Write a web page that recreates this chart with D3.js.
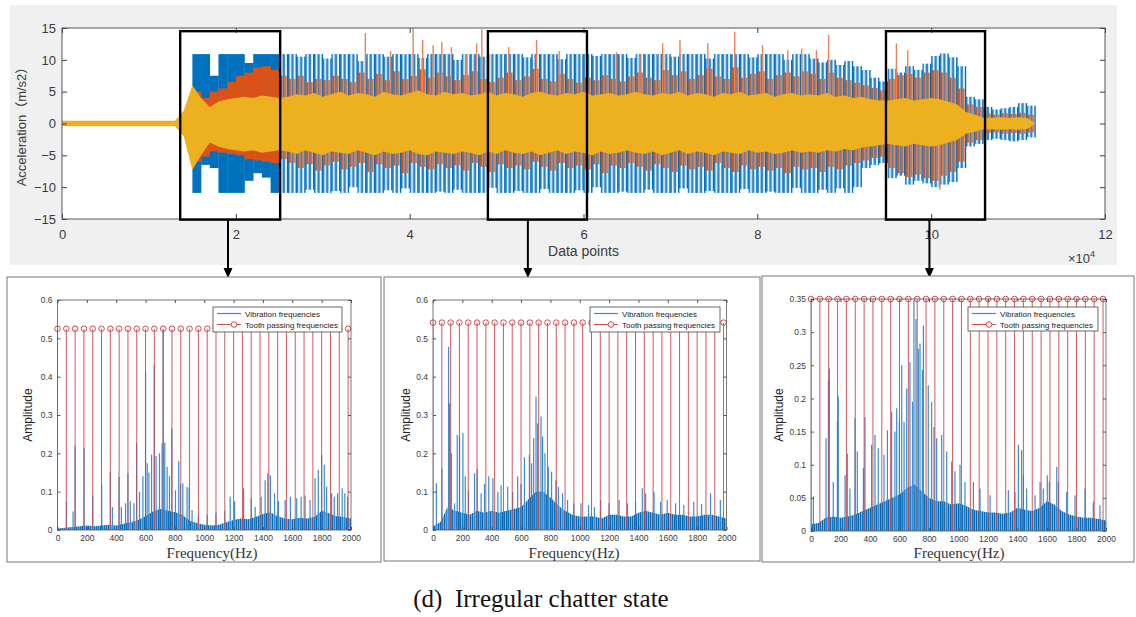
<!DOCTYPE html>
<html>
<head>
<meta charset="utf-8">
<script src="https://cdn.jsdelivr.net/npm/d3@7"></script>
<style>
  body { margin: 0; background: #fff; }
  svg { display: block; font-family: "Liberation Sans", Arial, "Noto Sans CJK SC", sans-serif; }
</style>
</head>
<body>
<svg id="fig" width="1136" height="617"></svg>
<script>
// ---------- top plot: acceleration, one envelope value every 1000 data points ----------
const sampleStep = 1000;
const xTicksTop = [0, 2, 4, 6, 8, 10, 12];          // x 10^4
const yTicksTop = [-15, -10, -5, 0, 5, 10, 15];

const blueHi = [0.3,0.3,0.3,0.3,0.3,0.3,0.3,0.3,0.3,0.3,0.3,0.3,0.3,0.3,
  1.5,
  10.9,10.9,7.5,10.9,10.9,10.9,9.5,10.9,10.9,10.9,10.9,
  10.9,10.5,10.9,10.9,10.2,10.9,10.9,10.9,9.8,10.9,10.9,10.5,10.9,10.9,10.9,10.3,10.9,10.9,10.9,10.0,
  10.9,10.9,10.5,10.9,10.9,10.9,10.9,10.4,10.9,10.9,10.9,10.1,10.9,10.9,10.9,10.6,10.9,10.9,10.9,10.3,
  10.9,10.9,10.9,10.9,10.5,10.9,10.9,10.9,10.2,10.9,10.9,10.9,10.9,10.4,10.9,10.9,10.9,10.0,10.9,10.9,
  10.2,9.6,10.0,9.2,9.8,9.0,8.4,7.2,6.6,
  8.6,8.0,9.0,8.4,9.4,10.6,11.0,10.4,9.0,
  4.2,3.8,2.6,2.2,2.4,2.6,3.2,2.8,0];
const blueLo = [-0.3,-0.3,-0.3,-0.3,-0.3,-0.3,-0.3,-0.3,-0.3,-0.3,-0.3,-0.3,-0.3,-0.3,
  -1.5,
  -10.9,-6.5,-7.0,-10.9,-10.9,-10.9,-9.0,-7.8,-8.5,-10.9,-10.9,
  -10.9,-10.9,-10.4,-10.9,-10.9,-10.6,-10.9,-10.0,-10.9,-10.9,-10.9,-10.5,-10.9,-10.2,-10.9,-10.9,-10.9,-10.7,-10.9,-10.4,
  -10.9,-10.9,-10.9,-10.1,-10.9,-10.9,-10.6,-10.9,-10.9,-10.3,-10.9,-10.9,-10.9,-10.5,-10.9,-10.0,-10.9,-10.9,-10.7,-10.9,
  -10.9,-10.4,-10.9,-10.9,-10.9,-10.2,-10.9,-10.9,-10.6,-10.9,-10.9,-10.9,-10.3,-10.9,-10.9,-10.7,-10.9,-10.9,-10.1,-10.9,
  -10.9,-10.4,-10.9,-10.2,-10.9,-10.0,-7.0,-6.5,-6.2,
  -8.6,-8.2,-9.6,-9.0,-9.4,-10.0,-9.6,-9.2,-7.0,
  -3.6,-3.2,-2.6,-2.4,-2.6,-2.8,-2.6,-2.2,0];
const orangeHi = [0.35,0.35,0.35,0.35,0.35,0.35,0.35,0.35,0.35,0.35,0.35,0.35,0.35,0.35,
  1.5,
  5.0,4.0,5.0,5.5,6.5,7.5,8.0,8.8,9.0,8.4,7.5,
  7.0,7.5,6.5,7.0,6.8,7.5,7.0,6.5,8.0,7.0,7.8,6.8,8.2,7.0,7.5,8.5,7.2,8.0,7.4,6.8,
  7.6,8.2,7.0,6.5,7.2,8.0,6.8,7.4,8.6,7.0,6.6,7.8,7.0,6.4,7.2,6.8,7.6,7.0,6.6,7.4,
  8.0,7.2,6.8,8.4,7.6,8.2,7.0,7.6,8.6,7.4,7.0,8.8,7.2,7.8,8.2,7.0,7.6,8.0,7.4,8.2,
  7.8,7.0,8.0,7.2,6.8,6.4,6.0,5.6,5.2,
  7.0,7.6,7.8,7.2,8.0,8.4,8.0,7.2,5.5,
  3.0,2.6,1.6,1.4,1.6,1.5,1.7,1.4,0];
const orangeLo = [-0.35,-0.35,-0.35,-0.35,-0.35,-0.35,-0.35,-0.35,-0.35,-0.35,-0.35,-0.35,-0.35,-0.35,
  -1.5,
  -6.0,-5.2,-4.4,-4.6,-4.8,-5.0,-5.6,-5.8,-6.0,-6.2,-5.6,
  -6.2,-7.0,-6.4,-7.4,-6.6,-6.0,-7.2,-6.8,-6.2,-7.6,-6.4,-7.0,-6.6,-7.8,-6.2,-6.8,-7.2,-6.4,-7.0,-6.6,
  -7.4,-6.2,-6.8,-7.6,-6.4,-7.0,-6.6,-7.2,-6.0,-6.8,-7.4,-6.2,-7.0,-6.6,-7.2,-6.4,-7.8,-6.6,-7.0,-6.2,
  -6.8,-7.4,-6.4,-7.0,-7.6,-6.6,-7.2,-6.8,-7.4,-6.2,-7.0,-7.6,-6.6,-7.2,-6.8,-7.4,-7.0,-7.8,-6.8,-7.2,
  -7.0,-7.6,-6.8,-7.2,-6.6,-6.2,-5.8,-5.4,-5.2,
  -7.0,-7.8,-8.4,-8.0,-8.6,-9.0,-8.2,-7.6,-6.0,
  -3.0,-2.6,-1.5,-1.4,-1.6,-1.5,-1.6,-1.4,0];
const yellowHi = [0.45,0.45,0.45,0.45,0.45,0.45,0.45,0.45,0.45,0.45,0.45,0.45,0.45,0.45,
  2.0,
  6.0,4.0,2.6,3.4,3.8,4.0,4.2,4.0,4.4,4.2,4.0,
  4.2,4.6,4.4,4.8,4.2,4.6,5.0,4.4,4.8,4.6,4.2,5.0,4.6,4.4,4.8,5.2,4.6,4.4,5.0,4.6,
  4.8,4.4,4.6,5.0,4.4,4.8,4.6,4.2,4.8,5.0,4.6,4.4,4.8,4.6,5.0,4.4,4.6,4.8,4.4,4.6,
  5.0,4.6,4.4,4.8,4.6,5.0,4.4,4.8,4.6,4.2,4.8,4.6,5.0,4.4,4.6,4.8,4.2,4.6,4.8,4.4,
  4.6,4.4,4.8,4.2,4.4,4.0,4.2,3.8,3.6,
  3.6,3.8,4.0,3.6,3.8,4.0,3.8,3.4,3.0,
  1.8,1.4,0.9,0.9,1.0,0.9,1.0,0.9,0];
const yellowLo = [-0.45,-0.45,-0.45,-0.45,-0.45,-0.45,-0.45,-0.45,-0.45,-0.45,-0.45,-0.45,-0.45,-0.45,
  -2.0,
  -7.3,-5.0,-3.0,-3.6,-4.0,-4.2,-4.4,-4.2,-4.6,-4.4,-4.2,
  -4.4,-4.8,-4.2,-4.6,-5.0,-4.4,-4.6,-4.8,-4.2,-4.6,-5.0,-4.4,-4.8,-4.6,-4.2,-4.8,-5.0,-4.4,-4.6,-4.8,
  -4.4,-4.6,-5.0,-4.4,-4.8,-4.2,-4.6,-4.8,-4.4,-5.0,-4.6,-4.2,-4.8,-4.4,-4.6,-5.0,-4.4,-4.8,-4.6,-4.2,
  -4.6,-4.8,-4.4,-5.0,-4.6,-4.2,-4.8,-4.4,-4.6,-5.0,-4.4,-4.6,-4.8,-4.2,-4.6,-4.4,-4.8,-4.6,-4.2,-4.6,
  -4.4,-4.6,-4.2,-4.4,-4.0,-4.2,-3.8,-3.6,-3.4,
  -3.2,-3.4,-3.6,-3.2,-3.4,-3.6,-3.4,-3.0,-2.6,
  -1.6,-1.3,-0.9,-0.9,-1.0,-0.9,-1.0,-0.9,0];
// isolated tall orange lines [data point, acceleration]
const orangeSpikes = [[34900,14.2],[37800,11.4],[40400,15.0],[41500,13.1],[42700,12.3],[43700,12.8],
  [44800,12.0],[46500,10.9],[47700,12.6],[48300,14.8],[51400,12.0],[54600,13.1],[57200,11.4],
  [63800,11.2],[66500,11.0],[69100,12.6],[71100,13.1],[74300,12.6],[77400,14.4],[80600,12.3],
  [83500,11.5],[85100,11.8],[86800,11.5],[88200,13.9],[96000,12.6],[97300,11.5],[101000,-10.4]];
const denseRange = [15000, 25000];   // blue/orange are a solid block here
// the three windows picked for the spectra
const windows = [[13600, 25100, 19100], [49000, 60400, 53600], [94800, 106200, 99800]];

// ---------- spectra ----------
const freqTicks = [0, 200, 400, 600, 800, 1000, 1200, 1400, 1600, 1800, 2000];
const ampTicksA = [0, 0.1, 0.2, 0.3, 0.4, 0.5, 0.6];
const ampTicksB = [0, 0.05, 0.1, 0.15, 0.2, 0.25, 0.3, 0.35];
const toothFreqs = [0,60,120,180,240,300,360,420,480,540,600,660,720,780,840,900,960,1020,1080,1140,
  1200,1260,1320,1380,1440,1500,1560,1620,1680,1740,1800,1860,1920,1980];
const stemHeights = [0.525, 0.541, 0.35];
const floorStep = 50;   // Hz between floor values
const floor1 = [0.004,0.006,0.008,0.010,0.012,0.010,0.012,0.014,0.012,0.016,0.020,0.026,0.036,0.048,0.055,0.050,
  0.046,0.040,0.024,0.018,0.014,0.012,0.014,0.020,0.026,0.030,0.028,0.034,0.042,0.046,0.036,0.030,0.028,0.032,
  0.030,0.034,0.050,0.044,0.036,0.034,0.030];
const floor2 = [0.010,0.020,0.060,0.050,0.045,0.040,0.050,0.045,0.050,0.045,0.050,0.055,0.060,0.080,0.100,0.100,
  0.085,0.065,0.050,0.040,0.035,0.035,0.035,0.030,0.040,0.040,0.035,0.035,0.045,0.050,0.045,0.040,0.045,0.040,
  0.040,0.035,0.035,0.040,0.040,0.035,0.030];
const floor3 = [0.010,0.012,0.020,0.022,0.020,0.022,0.025,0.030,0.035,0.040,0.045,0.050,0.055,0.065,0.070,0.060,
  0.050,0.045,0.045,0.040,0.042,0.038,0.032,0.030,0.028,0.028,0.026,0.028,0.035,0.032,0.030,0.035,0.045,0.040,
  0.030,0.025,0.022,0.020,0.020,0.018,0.016];
const peaks1 = [[61,0.074],[106,0.048],[120,0.22],[181,0.213],[240,0.09],[301,0.117],[360,0.152],[374,0.06],
  [419,0.139],[435,0.06],[464,0.07],[480,0.148],[496,0.075],[521,0.07],[539,0.226],[559,0.10],[582,0.14],
  [600,0.413],[611,0.174],[623,0.15],[641,0.196],[659,0.43],[672,0.193],[695,0.20],[713,0.226],[720,0.523],
  [731,0.228],[747,0.165],[763,0.14],[779,0.265],[804,0.104],[826,0.18],[838,0.12],[854,0.122],[883,0.113],
  [897,0.11],[917,0.052],[960,0.035],[1020,0.04],[1080,0.045],[1140,0.05],[1177,0.087],[1207,0.075],
  [1268,0.109],[1320,0.083],[1347,0.06],[1388,0.087],[1415,0.13],[1433,0.148],[1451,0.143],[1479,0.096],
  [1506,0.075],[1551,0.078],[1587,0.087],[1630,0.083],[1660,0.087],[1687,0.09],[1721,0.078],[1755,0.135],
  [1777,0.157],[1800,0.196],[1818,0.17],[1834,0.113],[1868,0.096],[1886,0.087],[1909,0.096],[1940,0.109],
  [1958,0.096],[1977,0.087]];
const peaks2 = [[23,0.122],[61,0.16],[91,0.05],[106,0.478],[113,0.33],[125,0.2],[147,0.07],[165,0.248],
  [181,0.243],[204,0.254],[220,0.14],[242,0.104],[283,0.148],[301,0.16],[328,0.096],[351,0.12],[380,0.14],
  [408,0.135],[442,0.10],[464,0.117],[509,0.113],[543,0.10],[577,0.14],[600,0.12],[623,0.19],[657,0.196],
  [672,0.174],[686,0.24],[702,0.348],[713,0.278],[736,0.296],[747,0.243],[763,0.2],[786,0.165],[808,0.152],
  [838,0.13],[854,0.113],[883,0.096],[917,0.078],[960,0.07],[1008,0.07],[1060,0.065],[1100,0.06],
  [1143,0.078],[1200,0.07],[1268,0.078],[1325,0.07],[1380,0.075],[1426,0.109],[1449,0.096],[1506,0.1],
  [1551,0.074],[1596,0.078],[1653,0.07],[1709,0.065],[1777,0.074],[1830,0.068],[1891,0.096],[1958,0.078]];
const peaks3 = [[16,0.052],[102,0.14],[118,0.226],[124,0.245],[151,0.074],[179,0.165],[185,0.203],
  [231,0.084],[246,0.117],[264,0.064],[298,0.17],[314,0.12],[355,0.095],[366,0.172],[411,0.13],[434,0.145],
  [456,0.125],[495,0.115],[518,0.152],[547,0.18],[569,0.15],[581,0.185],[599,0.165],[615,0.25],[631,0.165],
  [649,0.215],[671,0.255],[689,0.195],[698,0.348],[712,0.32],[728,0.275],[739,0.283],[755,0.243],[762,0.31],
  [795,0.22],[818,0.195],[834,0.157],[852,0.14],[886,0.145],[920,0.12],[954,0.105],[976,0.09],[1010,0.1],
  [1044,0.074],[1101,0.074],[1146,0.064],[1214,0.054],[1338,0.062],[1383,0.059],[1406,0.13],[1428,0.122],
  [1440,0.084],[1462,0.064],[1519,0.054],[1553,0.074],[1575,0.064],[1602,0.084],[1616,0.074],[1666,0.097],
  [1677,0.074],[1733,0.059],[1790,0.054],[1858,0.064],[1914,0.044],[1959,0.039]];

const svg = d3.select("#fig");
const defs = svg.append("defs");
const axisGrey = "#3a3a3a";

function stripes(id, period, bars) {
  const p = defs.append("pattern").attr("id", id)
    .attr("patternUnits", "userSpaceOnUse").attr("width", period).attr("height", 40);
  bars.forEach(function(b) {
    p.append("rect").attr("x", b[0]).attr("y", 0).attr("width", b[1]).attr("height", 40).attr("fill", b[2]);
  });
}

// ================= top plot =================
svg.append("rect").attr("x", 10).attr("y", 5).attr("width", 1107).attr("height", 260).attr("fill", "#f0f0f0");

const xT = d3.scaleLinear().domain([0, 120000]).range([62, 1105]);
const yT = d3.scaleLinear().domain([-15, 15]).range([219, 28]);
const cell = xT(sampleStep) - xT(0);

stripes("blueComb", cell, [[0, 2.6, "#0072BD"], [cell / 2, 2.6, "#2d86c9"]]);
stripes("orangeComb", cell, [[1.9, 2.4, "#D95319"], [cell / 2 + 1.9, 2.2, "#dd6a30"]]);

svg.append("rect").attr("x", xT(0)).attr("y", yT(15)).attr("width", xT(120000) - xT(0))
  .attr("height", yT(-15) - yT(15)).attr("fill", "#fff");

defs.append("clipPath").attr("id", "topClip").append("rect")
  .attr("x", xT(0)).attr("y", yT(15)).attr("width", xT(120000) - xT(0)).attr("height", yT(-15) - yT(15));
const plot = svg.append("g").attr("clip-path", "url(#topClip)");

function isDense(i) { return i * sampleStep >= denseRange[0] && i * sampleStep < denseRange[1]; }

plot.selectAll("rect.blue").data(blueHi).enter().append("rect").attr("class", "blue")
  .attr("x", function(d, i) { return xT(i * sampleStep); })
  .attr("width", cell + 0.3)
  .attr("y", function(d) { return yT(d); })
  .attr("height", function(d, i) { return yT(blueLo[i]) - yT(d); })
  .attr("fill", function(d, i) { return isDense(i) ? "#0072BD" : "url(#blueComb)"; });

plot.selectAll("rect.orange").data(orangeHi).enter().append("rect").attr("class", "orange")
  .attr("x", function(d, i) { return xT(i * sampleStep); })
  .attr("width", cell + 0.3)
  .attr("y", function(d) { return yT(d); })
  .attr("height", function(d, i) { return yT(orangeLo[i]) - yT(d); })
  .attr("fill", function(d, i) { return isDense(i) ? "#D95319" : "url(#orangeComb)"; });

plot.selectAll("line.spike").data(orangeSpikes).enter().append("line").attr("class", "spike")
  .attr("x1", function(d) { return xT(d[0]); }).attr("x2", function(d) { return xT(d[0]); })
  .attr("y1", yT(0)).attr("y2", function(d) { return yT(d[1]); })
  .attr("stroke", "#e8825a").attr("stroke-width", 1.4);

const yellowArea = d3.area()
  .x(function(d, i) { return xT(i * sampleStep); })
  .y0(function(d, i) { return yT(yellowLo[i]); })
  .y1(function(d) { return yT(d); });
plot.append("path").datum(yellowHi).attr("d", yellowArea).attr("fill", "#EDB120");

// axes (MATLAB style, ticks inside, box on)
function hideDomain(g) { g.select(".domain").remove(); }
svg.append("g").attr("transform", "translate(0," + yT(-15) + ")")
  .call(d3.axisBottom(xT).tickValues(xTicksTop.map(function(v) { return v * 1e4; }))
    .tickFormat(function(v) { return v / 1e4; }).tickSizeInner(-5).tickSizeOuter(0).tickPadding(11))
  .call(hideDomain)
  .call(function(g) { g.selectAll("text").attr("font-size", 13).attr("fill", axisGrey); g.selectAll("line").attr("stroke", axisGrey); });
svg.append("g").attr("transform", "translate(0," + yT(15) + ")")
  .call(d3.axisTop(xT).tickValues(xTicksTop.map(function(v) { return v * 1e4; }))
    .tickFormat("").tickSizeInner(-5).tickSizeOuter(0))
  .call(hideDomain).call(function(g) { g.selectAll("line").attr("stroke", axisGrey); });
svg.append("g").attr("transform", "translate(" + xT(0) + ",0)")
  .call(d3.axisLeft(yT).tickValues(yTicksTop).tickSizeInner(-5).tickSizeOuter(0).tickPadding(6))
  .call(hideDomain)
  .call(function(g) { g.selectAll("text").attr("font-size", 13).attr("fill", axisGrey); g.selectAll("line").attr("stroke", axisGrey); });
svg.append("g").attr("transform", "translate(" + xT(120000) + ",0)")
  .call(d3.axisRight(yT).tickValues(yTicksTop).tickFormat("").tickSizeInner(-5).tickSizeOuter(0))
  .call(hideDomain).call(function(g) { g.selectAll("line").attr("stroke", axisGrey); });
svg.append("rect").attr("x", xT(0)).attr("y", yT(15)).attr("width", xT(120000) - xT(0))
  .attr("height", yT(-15) - yT(15)).attr("fill", "none").attr("stroke", "#555").attr("stroke-width", 1);

svg.append("text").attr("x", (xT(0) + xT(120000)) / 2).attr("y", 256).attr("text-anchor", "middle")
  .attr("font-size", 14).attr("fill", axisGrey).text("Data points");
const expo = svg.append("text").attr("x", 1068).attr("y", 263).attr("font-size", 13).attr("fill", axisGrey);
expo.append("tspan").text("\u00d710");
expo.append("tspan").attr("dy", -6).attr("font-size", 9).text("4");
svg.append("text").attr("transform", "translate(26," + yT(0) + ") rotate(-90)").attr("text-anchor", "middle")
  .attr("font-size", 13).attr("fill", axisGrey).text("Acceleration\uff08m/s2\uff09");

// selection boxes and arrows
windows.forEach(function(w) {
  svg.append("rect").attr("x", xT(w[0])).attr("y", yT(14.5)).attr("width", xT(w[1]) - xT(w[0]))
    .attr("height", yT(-15.1) - yT(14.5)).attr("fill", "none").attr("stroke", "#000").attr("stroke-width", 2.4);
  const ax = xT(w[2]);
  svg.append("line").attr("x1", ax).attr("x2", ax).attr("y1", yT(-15.1)).attr("y2", 269)
    .attr("stroke", "#000").attr("stroke-width", 2);
  svg.append("path").attr("d", "M" + (ax - 4.5) + ",268 L" + (ax + 4.5) + ",268 L" + ax + ",278 Z").attr("fill", "#000");
});

// ================= spectrum panels =================
const panels = [
  { box: [7, 277, 374, 285], x: [57.5, 351], y: [530, 300], yMax: 0.6, ticks: ampTicksA,
    stem: stemHeights[0], floor: floor1, peaks: peaks1, legend: [213, 307, 129, 25], ampX: 32, freqX: 212 },
  { box: [384, 277, 376, 284], x: [433, 726.5], y: [530, 300], yMax: 0.6, ticks: ampTicksA,
    stem: stemHeights[1], floor: floor2, peaks: peaks2, legend: [590, 307, 130, 25], ampX: 410, freqX: 574 },
  { box: [762, 276, 372, 286], x: [811, 1106], y: [531, 299], yMax: 0.35, ticks: ampTicksB,
    stem: stemHeights[2], floor: floor3, peaks: peaks3, legend: [968, 307, 130, 24], ampX: 783, freqX: 959 }
];

stripes("specFill", 2, [[0, 1.2, "#0a6bb5"], [1.2, 0.8, "#5ba2da"]]);

panels.forEach(function(p, k) {
  svg.append("rect").attr("x", p.box[0]).attr("y", p.box[1]).attr("width", p.box[2]).attr("height", p.box[3])
    .attr("fill", "#fff").attr("stroke", "#777").attr("stroke-width", 1);

  const x = d3.scaleLinear().domain([0, 2000]).range(p.x);
  const y = d3.scaleLinear().domain([0, p.yMax]).range(p.y);
  const fmt = d3.format("~g");

  defs.append("clipPath").attr("id", "spec" + k).append("rect")
    .attr("x", p.x[0]).attr("y", p.y[1]).attr("width", p.x[1] - p.x[0]).attr("height", p.y[0] - p.y[1]);
  const g = svg.append("g").attr("clip-path", "url(#spec" + k + ")");

  // dense vibration floor
  const floorArea = d3.area()
    .x(function(d, i) { return x(i * floorStep); })
    .y0(y(0)).y1(function(d) { return y(d); });
  g.append("path").datum(p.floor).attr("d", floorArea).attr("fill", "url(#specFill)");

  // vibration peaks
  g.selectAll("line.pk").data(p.peaks).enter().append("line").attr("class", "pk")
    .attr("x1", function(d) { return x(d[0]); }).attr("x2", function(d) { return x(d[0]); })
    .attr("y1", y(0)).attr("y2", function(d) { return y(d[1]); })
    .attr("stroke", "#3b8dcf").attr("stroke-width", 1.2);

  // tooth passing stems
  g.selectAll("line.stem").data(toothFreqs).enter().append("line").attr("class", "stem")
    .attr("x1", function(d) { return x(d); }).attr("x2", function(d) { return x(d); })
    .attr("y1", y(0)).attr("y2", y(p.stem))
    .attr("stroke", "#c9474f").attr("stroke-opacity", 0.9).attr("stroke-width", 1);
  svg.selectAll("circle.stem" + k).data(toothFreqs).enter().append("circle").attr("class", "stem" + k)
    .attr("cx", function(d) { return x(d); }).attr("cy", y(p.stem)).attr("r", 2.8)
    .attr("fill", "none").attr("stroke", "#cf4a4a").attr("stroke-width", 1);

  // axes
  const styleAxis = function(sel) {
    sel.select(".domain").remove();
    sel.selectAll("text").attr("font-size", 8.5).attr("fill", axisGrey);
    sel.selectAll("line").attr("stroke", "#555");
  };
  svg.append("g").attr("transform", "translate(0," + p.y[0] + ")")
    .call(d3.axisBottom(x).tickValues(freqTicks).tickFormat(d3.format("d"))
      .tickSizeInner(-3).tickSizeOuter(0).tickPadding(5)).call(styleAxis);
  svg.append("g").attr("transform", "translate(0," + p.y[1] + ")")
    .call(d3.axisTop(x).tickValues(freqTicks).tickFormat("").tickSizeInner(-3).tickSizeOuter(0)).call(styleAxis);
  svg.append("g").attr("transform", "translate(" + p.x[0] + ",0)")
    .call(d3.axisLeft(y).tickValues(p.ticks).tickFormat(fmt).tickSizeInner(-3).tickSizeOuter(0).tickPadding(5)).call(styleAxis);
  svg.append("g").attr("transform", "translate(" + p.x[1] + ",0)")
    .call(d3.axisRight(y).tickValues(p.ticks).tickFormat("").tickSizeInner(-3).tickSizeOuter(0)).call(styleAxis);
  svg.append("rect").attr("x", p.x[0]).attr("y", p.y[1]).attr("width", p.x[1] - p.x[0]).attr("height", p.y[0] - p.y[1])
    .attr("fill", "none").attr("stroke", "#555").attr("stroke-width", 0.8);

  // legend
  const L = p.legend;
  svg.append("rect").attr("x", L[0]).attr("y", L[1]).attr("width", L[2]).attr("height", L[3])
    .attr("fill", "#fff").attr("stroke", "#444").attr("stroke-width", 0.8);
  svg.append("line").attr("x1", L[0] + 4).attr("x2", L[0] + 28).attr("y1", L[1] + 6.5).attr("y2", L[1] + 6.5)
    .attr("stroke", "#3b8dcf").attr("stroke-width", 1.2);
  svg.append("line").attr("x1", L[0] + 4).attr("x2", L[0] + 28).attr("y1", L[1] + 17.5).attr("y2", L[1] + 17.5)
    .attr("stroke", "#cf4a4a").attr("stroke-width", 1);
  svg.append("circle").attr("cx", L[0] + 21).attr("cy", L[1] + 17.5).attr("r", 2.8)
    .attr("fill", "#fff").attr("stroke", "#cf4a4a").attr("stroke-width", 1);
  svg.append("text").attr("x", L[0] + 32).attr("y", L[1] + 9.5).attr("font-size", 8).attr("fill", "#222")
    .text("Vibration frequencies");
  svg.append("text").attr("x", L[0] + 32).attr("y", L[1] + 20.5).attr("font-size", 8).attr("fill", "#222")
    .text("Tooth passing frequencies");

  // labels
  svg.append("text").attr("transform", "translate(" + p.ampX + "," + ((p.y[0] + p.y[1]) / 2) + ") rotate(-90)")
    .attr("text-anchor", "middle").attr("font-size", 12).attr("fill", "#222").text("Amplitude");
  svg.append("text").attr("x", p.freqX).attr("y", 558).attr("text-anchor", "middle")
    .attr("font-family", "'Liberation Serif', 'Times New Roman', serif").attr("font-size", 15).attr("fill", "#333")
    .text("Frequency(Hz)");
});

// caption
svg.append("text").attr("x", 541).attr("y", 607).attr("text-anchor", "middle")
  .attr("font-family", "'Liberation Serif', 'Times New Roman', serif").attr("font-size", 25).attr("fill", "#111")
  .style("white-space", "pre").text("(d)  Irregular chatter state");
</script>
</body>
</html>
